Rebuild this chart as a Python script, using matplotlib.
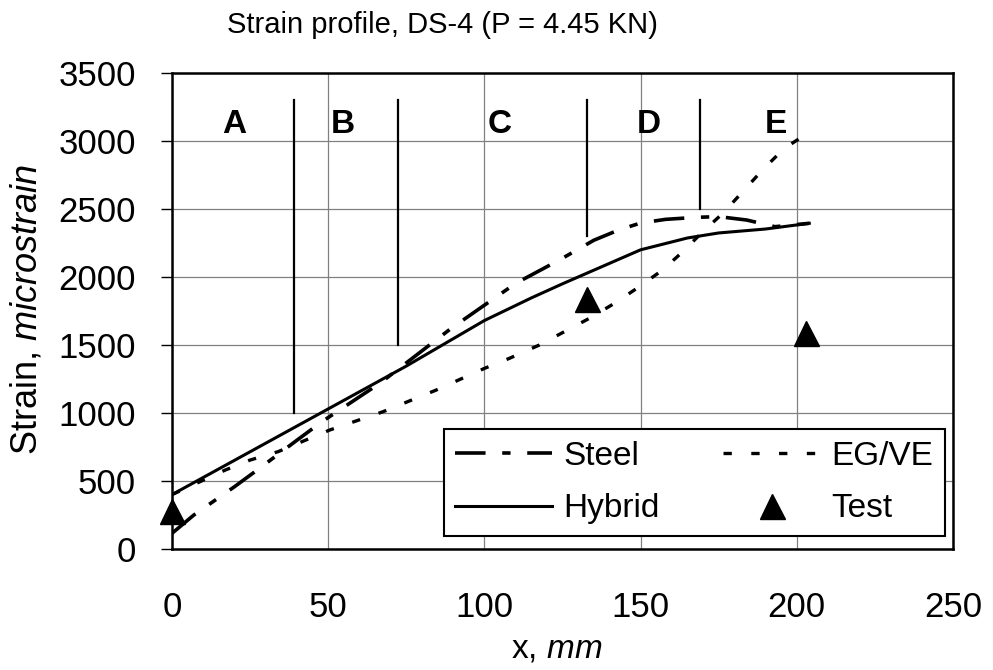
import matplotlib.pyplot as plt
import numpy as np

# Fuente tipo Arial y cursiva para las unidades
plt.rcParams['font.family'] = ['Liberation Sans', 'DejaVu Sans']
plt.rcParams['mathtext.fontset'] = 'custom'
plt.rcParams['mathtext.rm'] = 'Liberation Sans'
plt.rcParams['mathtext.it'] = 'Liberation Sans:italic'
plt.rcParams['lines.scale_dashes'] = False

# Perfiles de deformacion (x en mm, deformacion en microstrain)
x_hybrid = [0, 25, 50, 75, 100, 115, 125, 133, 150, 165, 175, 190, 204]
y_hybrid = [400, 715, 1030, 1345, 1680, 1846, 1950, 2030, 2200, 2287, 2324, 2353, 2395]

x_steel = [0, 7, 20, 28, 40, 48, 66.5, 89.4, 110, 124, 135, 143, 150, 158, 168, 175, 184, 193, 204]
y_steel = [115, 250, 458, 593, 800, 936, 1218, 1623, 1953, 2125, 2270, 2346, 2397, 2424, 2439, 2444, 2419, 2370, 2395]

x_egve = [0, 17, 25, 34, 50.5, 67.6, 84.6, 100, 108, 117.6, 133.6, 141.6, 149.6, 157, 163.5, 169.9,
          176.3, 183.2, 189, 196, 203]
y_egve = [400, 580, 654, 716, 875, 1010, 1169, 1328, 1402, 1500, 1696, 1806, 1929, 2051, 2186, 2333,
          2468, 2640, 2787, 2946, 3050]

# Puntos del ensayo
x_test = [0, 133, 203]
y_test = [280, 1840, 1590]

# Limites de las zonas A..E (x, deformacion inferior de la linea)
zonas_x = [39, 72.5, 133, 169]
zonas_ymin = [1000, 1500, 2300, 2500]
zonas_ymax = 3300
letras = ['A', 'B', 'C', 'D', 'E']
letras_x = [20, 54.7, 105, 152.5, 193.4]
letras_y = 3125

fig = plt.figure(figsize=(9.93, 6.7), dpi=100)
ax = fig.add_axes([0.1732, 0.1806, 0.7865, 0.7104])

ax.plot(x_steel, y_steel, color='black', linewidth=2.6, dashes=(22, 12, 6, 12), label='Steel')
ax.plot(x_hybrid, y_hybrid, color='black', linewidth=2.2, label='Hybrid')
ax.plot(x_egve, y_egve, color='black', linewidth=2.4, dashes=(6, 14), label='EG/VE')
ax.plot(x_test, y_test, linestyle='none', marker='^', markersize=18, color='black',
        label='Test', clip_on=False, zorder=5)

# Lineas verticales que separan las zonas
for zx, zy in zip(zonas_x, zonas_ymin):
    ax.plot([zx, zx], [zy, zonas_ymax], color='black', linewidth=1.6)
for l, lx in zip(letras, letras_x):
    ax.text(lx, letras_y, l, fontsize=24, fontweight='bold', ha='center', va='center')

ax.set_xlim(0, 250)
ax.set_ylim(0, 3500)
ax.set_xticks(np.arange(0, 251, 50))
ax.set_yticks(np.arange(0, 3501, 500))
ax.grid(color='#808080', linewidth=0.9)
ax.set_axisbelow(True)
for s in ax.spines.values():
    s.set_linewidth(1.8)
ax.tick_params(axis='y', direction='out', length=8, width=1, pad=18, labelsize=25)
ax.tick_params(axis='x', length=0, pad=30, labelsize=25)

fig.text(0.561, 1 - 658 / 670, 'x, $\\mathit{mm}$', fontsize=24, ha='center', va='baseline')
fig.text(0.027, 1 - 309 / 670, 'Strain, $\\mathit{microstrain}$', fontsize=26, rotation=90,
         ha='center', va='center')
fig.text(0.446, 0.962, 'Strain profile, DS-4 (P = 4.45 KN)', fontsize=21, ha='center', va='center')

leg = ax.legend(ncol=2, loc='lower right', bbox_to_anchor=(0.99, 0.027), borderaxespad=0,
                fontsize=24, handlelength=2.9, handletextpad=0.35, columnspacing=1.9,
                labelspacing=0.65, borderpad=0.35, fancybox=False, framealpha=1)
leg.get_frame().set_edgecolor('black')
leg.get_frame().set_linewidth(1.5)

plt.savefig('out.png')
